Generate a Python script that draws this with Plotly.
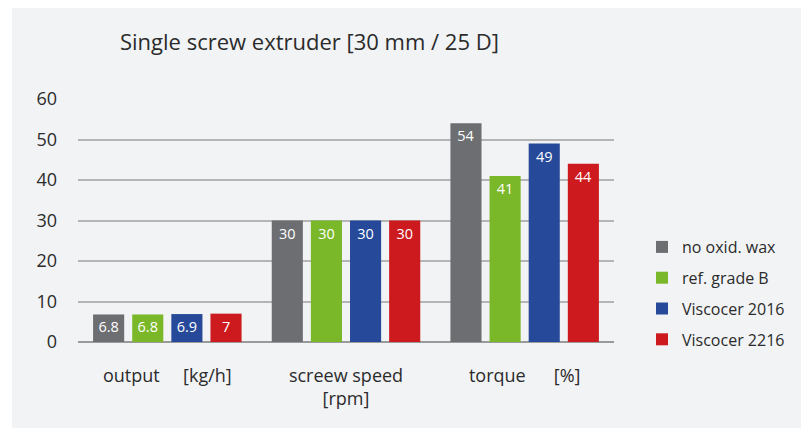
import plotly.graph_objects as go

categories = ["output\u00a0\u00a0\u00a0\u00a0\u00a0[kg/h]", "screew speed<br>[rpm]", "torque\u00a0\u00a0\u00a0\u00a0\u00a0\u00a0[%]"]
series_names = ["no oxid. wax", "ref. grade B", "Viscocer 2016", "Viscocer 2216"]
no_oxid_wax = [6.8, 30, 54]
ref_grade_b = [6.8, 30, 41]
viscocer_2016 = [6.9, 30, 49]
viscocer_2216 = [7, 30, 44]
y_ticks = [0, 10, 20, 30, 40, 50, 60]

colors = ["#6d6e72", "#7ab829", "#264a99", "#cc1a1f"]
FONT = "Open Sans"

# The page body has an 8px margin, so figure coords = page coords - 8
OFF = 8
W, H = 809 - OFF, 428 - OFF

fig = go.Figure()
for name, vals, col in zip(series_names, [no_oxid_wax, ref_grade_b, viscocer_2016, viscocer_2216], colors):
    fig.add_trace(go.Bar(
        x=categories, y=vals, name=name, marker=dict(color=col, line=dict(width=0)),
        text=[f"{v:g}" for v in vals], textposition="inside", insidetextanchor="end",
        textangle=0, textfont=dict(color="white", size=14.5, family=FONT),
        legendgroup=name, cliponaxis=False,
    ))

L = 78 - OFF
Rx = 614 - OFF
T = 99 - OFF
Bp = 342 - OFF
pw, ph = Rx - L, Bp - T

def px(x):
    return (x - OFF - L) / pw

def py(y):
    return (Bp - (y - OFF)) / ph

fig.add_shape(type="rect", xref="paper", yref="paper", layer="below",
              x0=px(12), x1=px(803), y0=py(440), y1=py(8),
              fillcolor="#f2f3f5", line=dict(width=0))

fig.update_layout(
    width=W, height=H,
    margin=dict(l=L, r=W - Rx, t=T, b=H - Bp),
    paper_bgcolor="white", plot_bgcolor="rgba(0,0,0,0)",
    barmode="group", bargap=0.124, bargroupgap=0.205,
    font=dict(family=FONT, color="#2b2b2b", size=18),
    title=dict(text="Single screw extruder [30 mm / 25 D]", x=(120 - OFF) / W, xanchor="left",
               xref="container", y=1 - (42 - OFF) / H, yref="container", yanchor="middle",
               font=dict(size=22, family=FONT, color="#2b2b2b")),
    legend=dict(x=px(642), xanchor="left", y=py(230), yanchor="top",
                font=dict(size=16, family=FONT, color="#2b2b2b"), bgcolor="rgba(0,0,0,0)",
                traceorder="grouped", tracegroupgap=7),
    showlegend=True,
)
fig.update_yaxes(range=[0, 60], tickvals=y_ticks, showgrid=True, gridcolor="#b5b5b5", gridwidth=1.5,
                 zeroline=True, zerolinecolor="#9a9a9a", zerolinewidth=1.5, showline=False,
                 ticks="", ticklabelstandoff=20, tickfont=dict(size=18))
fig.update_xaxes(showline=False, ticks="", ticklabelstandoff=21, tickfont=dict(size=18))

fig.write_html("out.html")
